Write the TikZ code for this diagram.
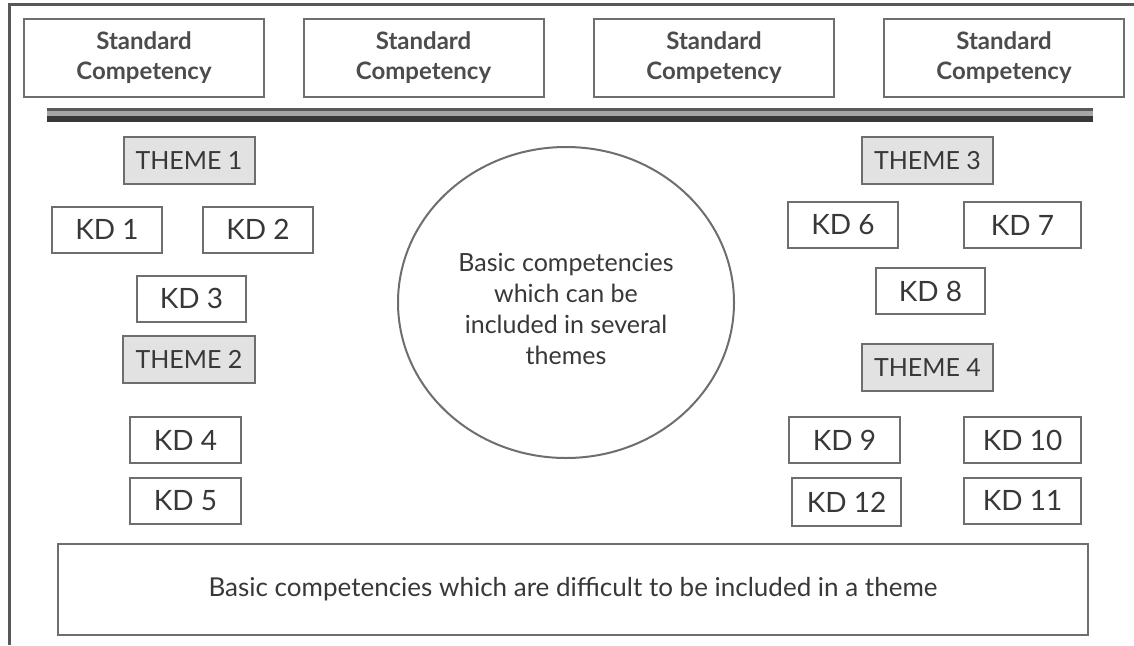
\documentclass[tikz,border=0pt]{standalone}
\usepackage{fontspec}
\setmainfont{Lato}
\usetikzlibrary{shapes.geometric}
\definecolor{inkgray}{HTML}{383838}
\definecolor{rulegray}{HTML}{6E6E6E}
\definecolor{themefill}{HTML}{E2E2E2}
\tikzset{
  box/.style={draw=rulegray, line width=2pt, fill=white, inner sep=0pt,
    text=inkgray, font=\fontsize{28}{30}\selectfont},
  stdbox/.style={box, minimum width=240pt, minimum height=78pt, align=center,
    font=\fontsize{24}{30}\selectfont\bfseries, text=inkgray!90},
  themebox/.style={box, fill=themefill, minimum width=131pt, minimum height=47pt,
    font=\fontsize{25}{30}\selectfont},
  kdbox/.style={box, minimum height=46pt},
}
\begin{document}
\begin{tikzpicture}[x=1pt, y=-1pt]
  \useasboundingbox (0,0) rectangle (1134,645);
  % open frame: left and top edges only
  \draw[rulegray!80!black, line width=3pt] (9,645) -- (9,4) -- (1134,4);

  % standard competencies along the top
  \node[stdbox] (sc1) at (144,58)   {Standard\\Competency};
  \node[stdbox] (sc2) at (423.5,58) {Standard\\Competency};
  \node[stdbox] (sc3) at (714,58)   {Standard\\Competency};
  \node[stdbox] (sc4) at (1004,58)  {Standard\\Competency};

  % double rule under the standard competencies
  \fill[gray!70] (47,108) rectangle (1093,122);
  \draw[black!65, line width=2.5pt] (47,109.5) -- (1093,109.5);
  \draw[black!78, line width=6pt] (47,119) -- (1093,119);

  % left column: themes 1 and 2
  \node[themebox] (t1) at (189,160.5) {THEME 1};
  \node[kdbox, minimum width=110pt] (kd1) at (107,229.5) {KD 1};
  \node[kdbox, minimum width=110pt] (kd2) at (258,229.5) {KD 2};
  \node[kdbox, minimum width=109pt] (kd3) at (191.5,298.5) {KD 3};
  \node[themebox, minimum width=132pt] (t2) at (189,359.5) {THEME 2};
  \node[kdbox, minimum width=111pt] (kd4) at (185.5,440) {KD 4};
  \node[kdbox, minimum width=111pt] (kd5) at (185.5,500.5) {KD 5};

  % right column: themes 3 and 4
  \node[themebox] (t3) at (927.5,160.5) {THEME 3};
  \node[kdbox, minimum width=110pt] (kd6) at (843,225) {KD 6};
  \node[kdbox, minimum width=117pt] (kd7) at (1022.5,225) {KD 7};
  \node[kdbox, minimum width=109pt] (kd8) at (930.5,291) {KD 8};
  \node[themebox] (t4) at (927.5,367.5) {THEME 4};
  \node[kdbox, minimum width=111pt] (kd9) at (844.5,440) {KD 9};
  \node[kdbox, minimum width=117pt] (kd10) at (1022.5,440) {KD 10};
  \node[kdbox, minimum width=109pt, minimum height=48pt] (kd12) at (846.5,502) {KD 12};
  \node[kdbox, minimum width=117pt] (kd11) at (1022.5,500.5) {KD 11};

  % shared competencies in the middle
  \node[box, ellipse, minimum width=336pt, minimum height=311pt] (shared) at (566,302.5) {};
  \node[text=inkgray, align=center, font=\fontsize{25}{31}\selectfont] (sharedtext) at (566,309)
    {Basic competencies\\which can be\\included in several\\themes};

  % competencies outside any theme
  \node[box, minimum width=1030pt, minimum height=91pt, font=\fontsize{26}{28}\selectfont] (outside) at (573,589.5)
    {Basic competencies which are difficult to be included in a theme};
\end{tikzpicture}
\end{document}
